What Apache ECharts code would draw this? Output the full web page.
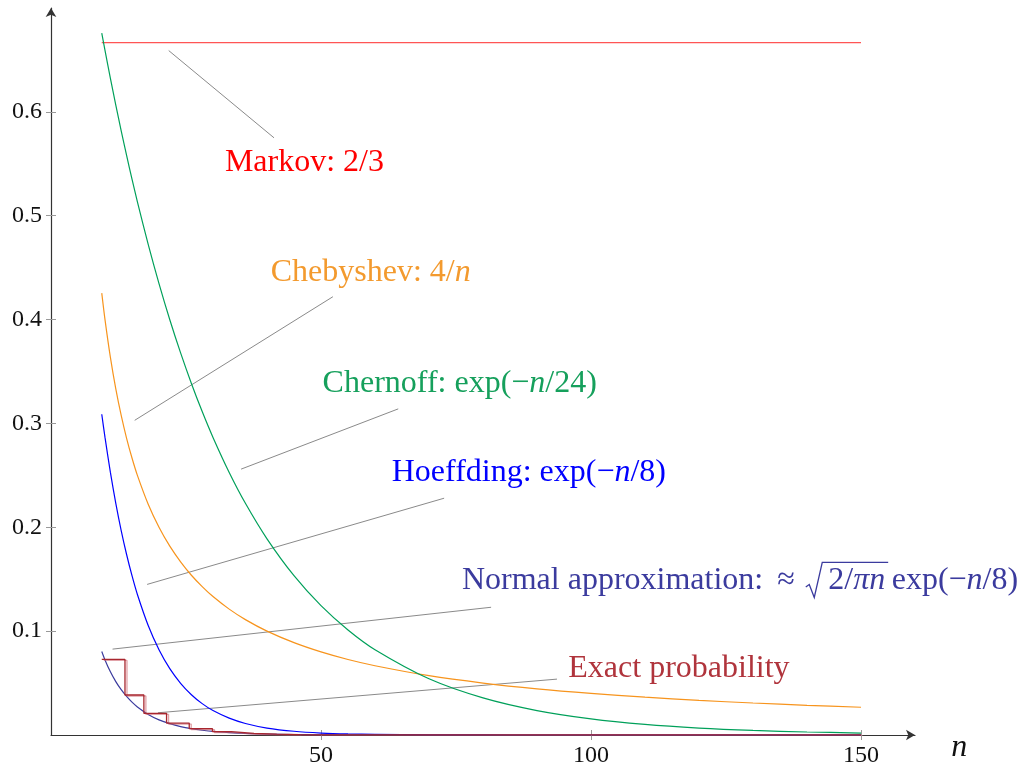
<!DOCTYPE html>
<html><head><meta charset="utf-8">
<script src="https://cdn.jsdelivr.net/npm/echarts@6/dist/echarts.min.js"></script>
<style>html,body{margin:0;padding:0;background:#fff}#c{width:1035px;height:763px}</style>
</head><body><div id="c"></div>
<script>
// ---- data ----
const nValues     = [9.4, 10, 11, 12, 13, 14, 15, 16, 18, 20, 22, 24, 26, 28, 30, 33, 36, 40, 45, 50, 55, 60, 70, 80, 90, 100, 110, 120, 130, 140, 150];
const chebyshev   = [0.4255, 0.4, 0.3636, 0.3333, 0.3077, 0.2857, 0.2667, 0.25, 0.2222, 0.2, 0.1818, 0.1667, 0.1538, 0.1429, 0.1333, 0.1212, 0.1111, 0.1, 0.0889, 0.08, 0.0727, 0.0667, 0.0571, 0.05, 0.0444, 0.04, 0.0364, 0.0333, 0.0308, 0.0286, 0.0267];
const chernoff    = [0.6759, 0.6592, 0.6323, 0.6065, 0.5818, 0.558, 0.5353, 0.5134, 0.4724, 0.4346, 0.3998, 0.3679, 0.3385, 0.3114, 0.2865, 0.2528, 0.2231, 0.1889, 0.1534, 0.1245, 0.1011, 0.0821, 0.0541, 0.0357, 0.0235, 0.0155, 0.0102, 0.0067, 0.0044, 0.0029, 0.0019];
const hoeffding   = [0.3088, 0.2865, 0.2528, 0.2231, 0.1969, 0.1738, 0.1534, 0.1353, 0.1054, 0.0821, 0.0639, 0.0498, 0.0388, 0.0302, 0.0235, 0.0162, 0.0111, 0.0067, 0.0036, 0.0019, 0.001, 0.0006, 0.0002, 0.00005, 0.00001, 0, 0, 0, 0, 0, 0];
const normalApprox= [0.0804, 0.0723, 0.0608, 0.0514, 0.0436, 0.0371, 0.0316, 0.027, 0.0198, 0.0146, 0.0109, 0.0081, 0.0061, 0.0046, 0.0034, 0.0023, 0.0015, 0.0009, 0.0004, 0.0002, 0.0001, 0.00006, 0.00002, 0, 0, 0, 0, 0, 0, 0, 0];
const markovN     = [9.4, 150];
const markovP     = [0.6667, 0.6667];
const exactN      = [9.4, 13.7, 17.2, 21.4, 25.6, 29.9, 33.4, 37.6, 41.8, 46, 50, 150];
const exactP      = [0.0728, 0.0385, 0.0209, 0.0115, 0.0061, 0.0032, 0.0016, 0.0008, 0.0004, 0.0002, 0.0001, 0];
const xTicks      = [50, 100, 150];
const yTicks      = [0.1, 0.2, 0.3, 0.4, 0.5, 0.6];

// ---- annotation texts and leader lines (data coordinates) ----
const notes = [
  {text: 'Markov: 2/3',              color: '#ff0000', at: [32.2, 0.554], line: [[21.8, 0.659], [41.3, 0.575]]},
  {text: 'Chebyshev: 4/{i|n}',       color: '#f39a2e', at: [40.7, 0.4486], line: [[52.2, 0.422], [15.5, 0.303]]},
  {text: 'Chernoff: exp(−{i|n}/24)', color: '#16a05c', at: [50.3, 0.3412], line: [[64.3, 0.314], [35.2, 0.256]]},
  {text: 'Hoeffding: exp(−{i|n}/8)', color: '#0000ff', at: [63.1, 0.2553], line: [[72.8, 0.228], [17.8, 0.145]]},
  {text: null,                       color: '#3b3b9e', at: [76.1, 0.1512], line: [[81.5, 0.123], [11.4, 0.0827]]},
  {text: 'Exact probability',        color: '#b0343c', at: [95.8, 0.0668], line: [[93.7, 0.0538], [19.8, 0.0214]]}
];

const FF = '"Liberation Serif", "Times New Roman", serif';
const FS = 32;
const DY = 3;
const pair = (xs, ys) => xs.map((x, i) => [x, ys[i]]);

function curve(name, xs, ys, color, w) {
  return {name, type: 'line', data: pair(xs, ys), showSymbol: false, smooth: 0.3,
    lineStyle: {color, width: w || 1.2}, itemStyle: {color}, silent: true, z: 3, animation: false};
}

const series = [
  curve('Markov', markovN, markovP, '#ff5555', 1.4),
  curve('Chebyshev', nValues, chebyshev, '#f7941d'),
  curve('Chernoff', nValues, chernoff, '#00a05a'),
  curve('Hoeffding', nValues, hoeffding, '#0000ff'),
  curve('Normal', nValues, normalApprox, '#3b3b9e'),
  {name: 'Exact', type: 'line', step: 'end', data: pair(exactN, exactP), showSymbol: false, silent: true, z: 4,
   lineStyle: {color: '#a8262e', width: 1.3, shadowColor: 'rgba(205,100,110,0.6)', shadowOffsetX: 2, shadowOffsetY: 1, shadowBlur: 0},
   itemStyle: {color: '#a8262e'}}
];
notes.forEach((nt, k) => series.push({
  name: 'lead' + k, type: 'line', data: nt.line, showSymbol: false, silent: true, z: 2,
  lineStyle: {color: '#8a8a8a', width: 1}, itemStyle: {color: '#8a8a8a'}
}));

const chart = echarts.init(document.getElementById('c'), null, {renderer: 'canvas'});
const tickStyle = {color: '#999', width: 1};
chart.setOption({
  animation: false,
  backgroundColor: '#fff',
  grid: {left: 51, right: 120, top: 8, bottom: 28, containLabel: false, outerBoundsMode: 'none'},
  xAxis: [
    {type: 'value', min: 0, max: 160, interval: 50, position: 'bottom',
     axisLine: {show: true, onZero: false, symbol: ['none', 'arrow'], symbolSize: [8, 9], lineStyle: {color: '#333', width: 1.2}},
     axisTick: {show: true, customValues: xTicks, length: 5, lineStyle: tickStyle},
     axisLabel: {customValues: xTicks, fontFamily: FF, fontSize: 24, color: '#111', margin: 9,
       formatter: v => (v >= 50 && v <= 150 && v % 50 === 0) ? String(v) : ''},
     splitLine: {show: false}},
    {type: 'value', min: 0, max: 160, interval: 50, position: 'bottom',
     axisLine: {show: false}, axisTick: {show: true, inside: true, customValues: xTicks, length: 5, lineStyle: tickStyle},
     axisLabel: {show: false}, splitLine: {show: false}}
  ],
  yAxis: [
    {type: 'value', min: 0, max: 0.7, interval: 0.1, position: 'left',
     axisLine: {show: true, onZero: false, symbol: ['none', 'arrow'], symbolSize: [8, 9], lineStyle: {color: '#333', width: 1.2}},
     axisTick: {show: true, customValues: yTicks, length: 5, lineStyle: tickStyle},
     axisLabel: {customValues: yTicks, fontFamily: FF, fontSize: 24, color: '#111', margin: 9, padding: [2, 0, 0, 0],
       formatter: v => (v > 0.05 && v < 0.65) ? v.toFixed(1) : ''},
     splitLine: {show: false}},
    {type: 'value', min: 0, max: 0.7, interval: 0.1, position: 'left',
     axisLine: {show: false}, axisTick: {show: true, inside: true, customValues: yTicks, length: 5, lineStyle: tickStyle},
     axisLabel: {show: false}, splitLine: {show: false}}
  ],
  series
});

// ---- text annotations ----
const ctx = document.createElement('canvas').getContext('2d');
function tw(s, italic) { ctx.font = (italic ? 'italic ' : '') + FS + 'px ' + FF; return ctx.measureText(s).width; }
const toPx = (p) => chart.convertToPixel({xAxisIndex: 0, yAxisIndex: 0}, p);

function textEl(x, y, text, color) {
  return {type: 'text', x, y: y + DY, silent: true, z: 100,
    style: {text, fill: color, fontFamily: FF, fontSize: FS, align: 'left', verticalAlign: 'middle',
      rich: {i: {fontStyle: 'italic', fontFamily: FF, fontSize: FS, fill: color}}}};
}

const graphics = [];
notes.forEach(nt => {
  const [x, y] = toPx(nt.at);
  if (nt.text) { graphics.push(textEl(x, y, nt.text, nt.color)); return; }
  // Normal approximation label with a drawn radical
  const c = nt.color;
  const B = y + 10.5;
  const t1 = 'Normal approximation:';
  graphics.push(textEl(x, y, t1, c));
  const xa = x + tw(t1) + 14;
  graphics.push(textEl(xa, y, '≈', c));
  const xr = xa + tw('≈') + 11;
  const w2 = tw('2/') + tw('πn', true);
  const top = B - 26;
  const xTop = xr + 16.5;
  const xEnd = xTop + 6 + w2 + 3;
  graphics.push({type: 'polyline', silent: true, z: 100,
    shape: {points: [[xr, B - 1.5], [xr + 3.5, B - 4], [xr + 8.5, B + 9], [xTop, top], [xEnd, top]]},
    style: {stroke: c, lineWidth: 1.3, fill: null}});
  graphics.push(textEl(xTop + 6, y, '2/{i|πn}', c));
  graphics.push(textEl(xEnd + 3.5, y, 'exp(−{i|n}/8)', c));
});
// axis name n
const [nx, ny] = toPx([166.7, -0.0096]);
graphics.push({type: 'text', x: nx, y: ny + DY, silent: true, z: 100,
  style: {text: 'n', fill: '#111', fontFamily: FF, fontStyle: 'italic', fontSize: FS, align: 'left', verticalAlign: 'middle'}});

chart.setOption({graphic: graphics});
</script>
</body></html>
